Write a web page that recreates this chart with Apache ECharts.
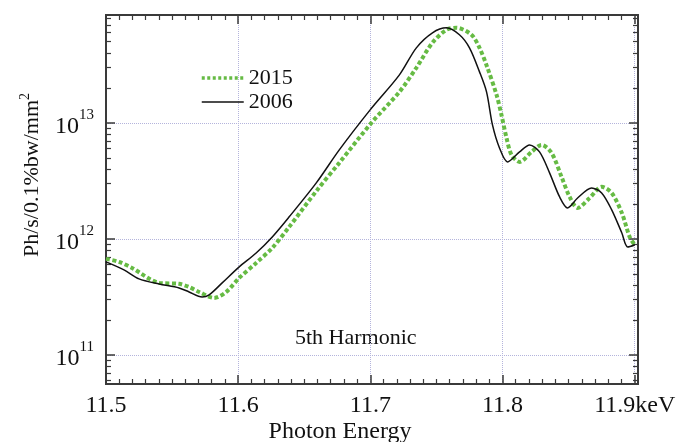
<!DOCTYPE html>
<html>
<head>
<meta charset="utf-8">
<script src="https://cdn.jsdelivr.net/npm/echarts@6/dist/echarts.min.js"></script>
<style>
  html, body { margin: 0; padding: 0; background: #fff; }
  #chart { width: 680px; height: 442px; }
</style>
</head>
<body>
<div id="chart"></div>
<script>
// photon energy (keV) and flux (Ph/s/0.1%bw/mm^2)
var energy2006 = [11.5000, 11.5136, 11.5250, 11.5402, 11.5553, 11.5629, 11.5727, 11.5780, 11.5879, 11.6008, 11.6136, 11.6258, 11.6386, 11.6591, 11.6765, 11.7000, 11.7220, 11.7348, 11.7470, 11.7576, 11.7674, 11.7750, 11.7826, 11.7879, 11.7924, 11.7977, 11.8038, 11.8129, 11.8205, 11.8280, 11.8356, 11.8432, 11.8492, 11.8568, 11.8674, 11.8750, 11.8826, 11.8902, 11.8947, 11.9000];
var flux2006 = [6.34e11, 5.41e11, 4.52e11, 4.09e11, 3.78e11, 3.49e11, 3.16e11, 3.29e11, 4.18e11, 5.74e11, 7.57e11, 1.04e12, 1.55e12, 3.04e12, 5.85e12, 1.30e13, 2.59e13, 4.43e13, 5.97e13, 6.59e13, 5.74e13, 4.43e13, 2.75e13, 1.85e13, 9.6e12, 6.08e12, 4.61e12, 5.62e12, 6.46e12, 5.62e12, 3.71e12, 2.30e12, 1.85e12, 2.25e12, 2.75e12, 2.49e12, 1.78e12, 1.13e12, 8.53e11, 8.87e11];

var energy2015 = [11.5000, 11.5098, 11.5197, 11.5402, 11.5553, 11.5629, 11.5705, 11.5818, 11.5909, 11.6008, 11.6136, 11.6258, 11.6386, 11.6598, 11.6765, 11.7008, 11.7220, 11.7348, 11.7470, 11.7576, 11.7652, 11.7765, 11.7826, 11.7886, 11.7955, 11.7992, 11.8030, 11.8068, 11.8129, 11.8220, 11.8295, 11.8371, 11.8447, 11.8508, 11.8568, 11.8659, 11.8750, 11.8826, 11.8902, 11.8962, 11.9000];
var flux2015 = [6.73e11, 6.34e11, 5.62e11, 4.18e11, 4.10e11, 3.85e11, 3.49e11, 3.10e11, 3.49e11, 4.61e11, 6.21e11, 8.36e11, 1.27e12, 2.64e12, 4.52e12, 1.0e13, 1.85e13, 2.98e13, 4.90e13, 6.34e13, 6.59e13, 5.74e13, 4.43e13, 2.98e13, 1.74e13, 1.17e13, 7.43e12, 5.30e12, 4.61e12, 5.62e12, 6.46e12, 5.51e12, 3.42e12, 2.30e12, 1.85e12, 2.25e12, 2.81e12, 2.49e12, 1.68e12, 1.04e12, 8.87e11];

var yMajor = [1e11, 1e12, 1e13];
var yMinor = [];
for (var n = 10; n <= 13; n++) {
  for (var k = 2; k <= 9; k++) {
    var v = k * Math.pow(10, n);
    if (v > 5.62e10 && v < 8.5e13) yMinor.push(v);
  }
}

var FONT = "Liberation Serif";
var xMin = 11.5, xMax = 11.9025;
var yMin = 5.62e10, yMax = 8.5e13;
var GREEN = "#66bb44";

function zip(xs, ys) {
  return xs.map(function (x, i) { return [x, ys[i]]; });
}

var axisLine = { show: true, lineStyle: { color: "#3a3a3a", width: 2 } };
var gridLine = { show: true, lineStyle: { color: "#b4b4dc", type: "dotted", width: 1 } };

function xAxisOf(pos, labels) {
  return {
    type: "value", position: pos, min: xMin, max: xMax, interval: 0.1,
    axisLine: axisLine,
    axisTick: { show: true, inside: true, length: 9, lineStyle: { color: "#3a3a3a", width: 1.5 } },
    minorTick: { show: true, splitNumber: 10, length: 5, lineStyle: { color: "#3a3a3a", width: 1.2 } },
    splitLine: labels ? gridLine : { show: false },
    axisLabel: {
      show: labels, margin: 10, color: "#111", fontFamily: FONT, fontSize: 24,
      formatter: function (v) {
        if (Math.abs(v * 10 - Math.round(v * 10)) > 1e-6) return "";
        var s = v.toFixed(1);
        return s === "11.9" ? "11.9keV" : s;
      }
    }
  };
}

function yAxisOf(pos, major, labels) {
  return {
    type: "log", logBase: 10, position: pos, min: yMin, max: yMax,
    axisLine: axisLine,
    axisTick: {
      show: true, inside: true, length: major ? 9 : 5,
      customValues: major ? yMajor : yMinor,
      lineStyle: { color: "#3a3a3a", width: major ? 1.5 : 1.2 }
    },
    splitLine: labels ? gridLine : { show: false },
    axisLabel: {
      show: labels, margin: 12, customValues: yMajor,
      formatter: function (v) {
        return "{b|10}{s|" + Math.round(Math.log10(v)) + "}";
      },
      rich: {
        b: { fontFamily: FONT, fontSize: 24, color: "#111", lineHeight: 31, verticalAlign: "bottom" },
        s: { fontFamily: FONT, fontSize: 15, color: "#111", lineHeight: 31, verticalAlign: "top" }
      }
    }
  };
}

var chart = echarts.init(document.getElementById("chart"));
chart.setOption({
  animation: false,
  backgroundColor: "#fff",
  grid: { left: 106, top: 15, right: 42, bottom: 58 },
  legend: {
    orient: "vertical", left: 195, top: 62, itemWidth: 42, itemHeight: 14, itemGap: 2,
    itemStyle: { opacity: 0 },
    textStyle: { fontFamily: FONT, fontSize: 22, color: "#111" },
    data: [
      { name: "2015", lineStyle: { color: GREEN, width: 3.5, type: [3, 2.5] } },
      { name: "2006", lineStyle: { color: "#111", width: 1.5 } }
    ]
  },
  xAxis: [xAxisOf("bottom", true), xAxisOf("top", false)],
  yAxis: [
    yAxisOf("left", true, true),
    yAxisOf("left", false, false),
    yAxisOf("right", true, false),
    yAxisOf("right", false, false)
  ],
  graphic: [
    {
      type: "text", x: 32, y: 175, rotation: Math.PI / 2,
      style: {
        text: "Ph/s/0.1%bw/mm{s|2}", fontFamily: FONT, fontSize: 22, fill: "#111",
        align: "center", verticalAlign: "middle",
        rich: { s: { fontFamily: FONT, fontSize: 14, fill: "#111", verticalAlign: "top", lineHeight: 28 } }
      }
    },
    {
      type: "text", x: 340, y: 432,
      style: { text: "Photon Energy", fontFamily: FONT, fontSize: 24, fill: "#111", align: "center", verticalAlign: "middle" }
    },
    {
      type: "text", x: 295, y: 338,
      style: { text: "5th Harmonic", fontFamily: FONT, fontSize: 22, fill: "#111", align: "left", verticalAlign: "middle" }
    }
  ],
  series: [
    {
      name: "2015", type: "line", smooth: 0.3, symbol: "none",
      xAxisIndex: 0, yAxisIndex: 0,
      lineStyle: { color: GREEN, width: 4, type: [4, 2.5] },
      itemStyle: { color: GREEN },
      data: zip(energy2015, flux2015)
    },
    {
      name: "2006", type: "line", smooth: 0.3, symbol: "none",
      xAxisIndex: 0, yAxisIndex: 0,
      lineStyle: { color: "#111", width: 1.5 },
      itemStyle: { color: "#111" },
      data: zip(energy2006, flux2006)
    }
  ]
});
</script>
</body>
</html>
